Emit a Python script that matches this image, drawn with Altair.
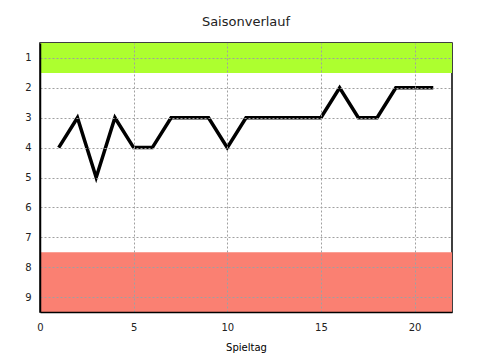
import altair as alt
import pandas as pd

spieltag = list(range(1, 22))
platz = [4, 3, 5, 3, 4, 4, 3, 3, 3, 4, 3, 3, 3, 3, 3, 2, 3, 3, 2, 2, 2]

band_lo = [0.5, 7.5]
band_hi = [1.5, 9.5]
band_col = ["#adff2f", "#fa8072"]

W, H = 412, 269

df = pd.DataFrame({"Spieltag": spieltag, "Platz": platz})
bands = pd.DataFrame({"lo": band_lo, "hi": band_hi, "col": band_col})

xs = alt.Scale(domain=[0, 22], nice=False, zero=False)
ys = alt.Scale(domain=[0.5, 9.5], reverse=True, nice=False, zero=False)

grid_kw = dict(grid=True, gridColor="#a0a0a0", gridDash=[2, 2], gridWidth=1,
               zindex=1, domain=True, domainColor="black", domainWidth=1.5,
               ticks=False, labelFontSize=10,
               labelColor="#222", labelFont="DejaVu Sans", labelOverlap=False)

yaxis = alt.Axis(values=list(range(1, 10)), title=None, labelPadding=9, **grid_kw)

rect = alt.Chart(bands).mark_rect().encode(
    x=alt.value(0), x2=alt.value(W),
    y=alt.Y("lo:Q", scale=ys, axis=yaxis),
    y2="hi:Q",
    color=alt.Color("col:N", scale=None),
)

line = alt.Chart(df).mark_line(color="black", strokeWidth=3.5, strokeJoin="miter").encode(
    x=alt.X("Spieltag:Q", scale=xs,
            axis=alt.Axis(values=[0, 5, 10, 15, 20], title="Spieltag", titleFontSize=10,
                          titleFont="DejaVu Sans", titleFontWeight="normal",
                          titlePadding=10, labelPadding=10, labelFlush=False, **grid_kw)),
    y=alt.Y("Platz:Q", scale=ys, axis=yaxis),
)

chart = (rect + line).properties(
    width=W, height=H,
    title=alt.TitleParams("Saisonverlauf", fontSize=13, fontWeight="normal",
                          font="DejaVu Sans", offset=14, anchor="middle", color="#222"),
    autosize=alt.AutoSizeParams(type="none"),
    padding={"left": 32, "top": 35, "right": 20, "bottom": 45},
).configure_view(stroke="black", strokeWidth=1.5).configure_axis(labelOverlap=False)

chart.save("out.html", embed_options={"renderer": "svg", "actions": False})
